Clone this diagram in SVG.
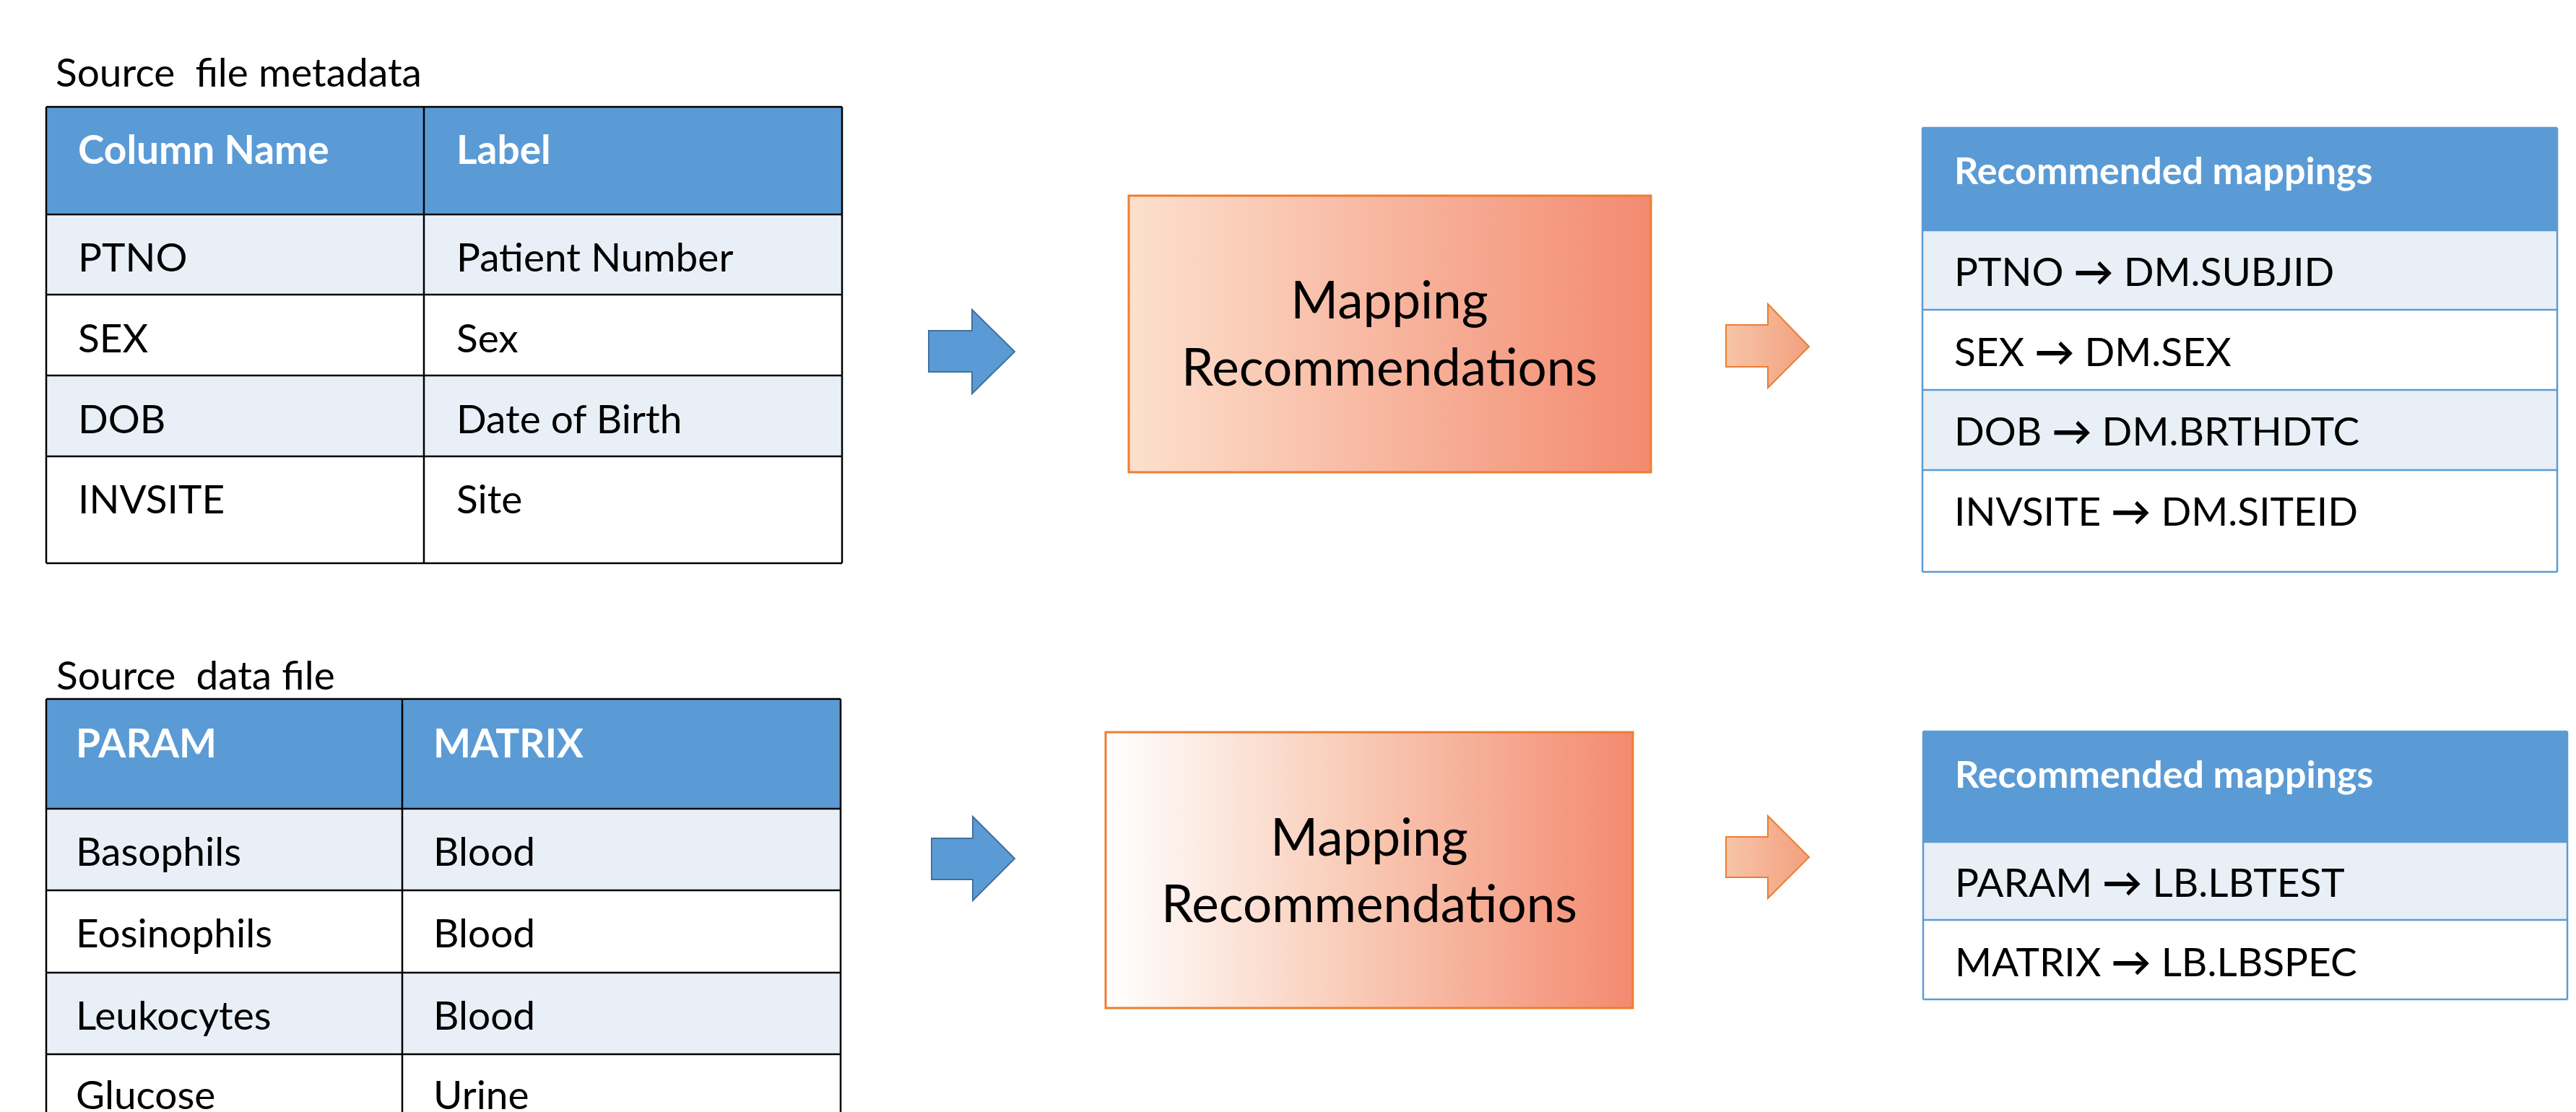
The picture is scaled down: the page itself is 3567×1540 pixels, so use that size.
<svg xmlns="http://www.w3.org/2000/svg" width="3567" height="1540" viewBox="0 0 3567 1540">
<defs>
  <linearGradient id="gTop" x1="0" y1="0" x2="1" y2="0">
    <stop offset="0" stop-color="#FCE0CD"/>
    <stop offset="1" stop-color="#F38A70"/>
  </linearGradient>
  <linearGradient id="gBot" x1="0" y1="0" x2="1" y2="0">
    <stop offset="0" stop-color="#FFFFFF"/>
    <stop offset="0.45" stop-color="#F9CDB9"/>
    <stop offset="1" stop-color="#F38A70"/>
  </linearGradient>
  <linearGradient id="gArr" x1="0" y1="0" x2="1" y2="0">
    <stop offset="0" stop-color="#F7C4A8"/>
    <stop offset="1" stop-color="#F2A07E"/>
  </linearGradient>
</defs>
<style>
  .t { font-family: Lato, "Liberation Sans", sans-serif; font-size: 55px; fill: #000; }
  .h { font-weight: bold; fill: #FFFFFF; }
  .rh { font-size: 52px; }
  .big { font-size: 71px; text-anchor: middle; }
  .ar { font-weight: bold; }
  .hdr { fill: #5B9BD5; }
  .alt { fill: #E9EFF7; }
  .wht { fill: #FFFFFF; }
  .grid { stroke: #000; stroke-width: 2.5; fill: none; }
  .bgrid { stroke: #5B9BD5; stroke-width: 2.5; fill: none; }
  .box { stroke: #ED7D31; stroke-width: 3; }
  .barrow { fill: #5B9BD5; stroke: #41719C; stroke-width: 2; }
  .oarrow { fill: url(#gArr); stroke: #ED7D31; stroke-width: 2; }
</style>
<rect width="3567" height="1540" fill="#FFFFFF"/>

<g id="source-metadata">
  <text class="t" x="77" y="120" xml:space="preserve">Source  file metadata</text>
  <rect class="hdr" x="64" y="148" width="1102" height="149"/>
  <rect class="alt" x="64" y="297" width="1102" height="111"/>
  <rect class="wht" x="64" y="408" width="1102" height="112"/>
  <rect class="alt" x="64" y="520" width="1102" height="112"/>
  <rect class="wht" x="64" y="632" width="1102" height="148"/>
  <path class="grid" d="M64 148H1166M64 297H1166M64 408H1166M64 520H1166M64 632H1166M64 780H1166M64 148V780M587 148V780M1166 148V780"/>
  <text class="t h" x="108" y="227">Column Name</text>
  <text class="t h" x="632" y="227">Label</text>
  <text class="t" x="108" y="376">PTNO</text>
  <text class="t" x="632" y="376">Patient Number</text>
  <text class="t" x="108" y="488">SEX</text>
  <text class="t" x="632" y="488">Sex</text>
  <text class="t" x="108" y="600">DOB</text>
  <text class="t" x="632" y="600">Date of Birth</text>
  <text class="t" x="108" y="711">INVSITE</text>
  <text class="t" x="632" y="711">Site</text>
</g>

<g id="source-data">
  <text class="t" x="78" y="955" xml:space="preserve">Source  data file</text>
  <rect class="hdr" x="64" y="968" width="1100" height="152"/>
  <rect class="alt" x="64" y="1120" width="1100" height="113"/>
  <rect class="wht" x="64" y="1233" width="1100" height="114"/>
  <rect class="alt" x="64" y="1347" width="1100" height="113"/>
  <rect class="wht" x="64" y="1460" width="1100" height="80"/>
  <path class="grid" d="M64 968H1164M64 1120H1164M64 1233H1164M64 1347H1164M64 1460H1164M64 968V1540M557 968V1540M1164 968V1540"/>
  <text class="t h" x="105" y="1049">PARAM</text>
  <text class="t h" x="600" y="1049">MATRIX</text>
  <text class="t" x="105" y="1199">Basophils</text>
  <text class="t" x="600" y="1199">Blood</text>
  <text class="t" x="105" y="1312">Eosinophils</text>
  <text class="t" x="600" y="1312">Blood</text>
  <text class="t" x="105" y="1426">Leukocytes</text>
  <text class="t" x="600" y="1426">Blood</text>
  <text class="t" x="105" y="1536">Glucose</text>
  <text class="t" x="600" y="1536">Urine</text>
</g>

<g id="mapping-top">
  <rect class="box" x="1563" y="271" width="723" height="383" fill="url(#gTop)"/>
  <text class="t big" x="1924" y="441">Mapping</text>
  <text class="t big" x="1924" y="534">Recommendations</text>
</g>

<g id="mapping-bottom">
  <rect class="box" x="1531" y="1014" width="730" height="382" fill="url(#gBot)"/>
  <text class="t big" x="1896" y="1185">Mapping</text>
  <text class="t big" x="1896" y="1277">Recommendations</text>
</g>

<g id="result-top">
  <rect class="hdr" x="2662" y="177" width="879" height="142"/>
  <rect class="alt" x="2662" y="319" width="879" height="110"/>
  <rect class="wht" x="2662" y="429" width="879" height="111"/>
  <rect class="alt" x="2662" y="540" width="879" height="111"/>
  <rect class="wht" x="2662" y="651" width="879" height="141"/>
  <path class="bgrid" d="M2662 177H3541M2662 319H3541M2662 429H3541M2662 540H3541M2662 651H3541M2662 792H3541M2662 177V792M3541 177V792"/>
  <text class="t h rh" x="2706" y="255">Recommended mappings</text>
  <text class="t" x="2706" y="396">PTNO <tspan class="ar">→</tspan> DM.SUBJID</text>
  <text class="t" x="2706" y="507">SEX <tspan class="ar">→</tspan> DM.SEX</text>
  <text class="t" x="2706" y="617">DOB <tspan class="ar">→</tspan> DM.BRTHDTC</text>
  <text class="t" x="2706" y="728">INVSITE <tspan class="ar">→</tspan> DM.SITEID</text>
</g>

<g id="result-bottom">
  <rect class="hdr" x="2663" y="1013" width="892" height="153"/>
  <rect class="alt" x="2663" y="1166" width="892" height="108"/>
  <rect class="wht" x="2663" y="1274" width="892" height="110"/>
  <path class="bgrid" d="M2663 1013H3555M2663 1166H3555M2663 1274H3555M2663 1384H3555M2663 1013V1384M3555 1013V1384"/>
  <text class="t h rh" x="2707" y="1091">Recommended mappings</text>
  <text class="t" x="2707" y="1242">PARAM <tspan class="ar">→</tspan> LB.LBTEST</text>
  <text class="t" x="2707" y="1352">MATRIX <tspan class="ar">→</tspan> LB.LBSPEC</text>
</g>

<g id="connectors">
  <polygon class="barrow" points="1286,458 1346,458 1346,429 1405,487 1346,545 1346,515 1286,515"/>
  <polygon class="barrow" points="1290,1161 1347,1161 1347,1131 1405,1189 1347,1247 1347,1218 1290,1218"/>
  <polygon class="oarrow" points="2390,450 2448,450 2448,421 2505,480 2448,537 2448,508 2390,508"/>
  <polygon class="oarrow" points="2390,1159 2448,1159 2448,1130 2505,1187 2448,1244 2448,1215 2390,1215"/>
</g>
</svg>
